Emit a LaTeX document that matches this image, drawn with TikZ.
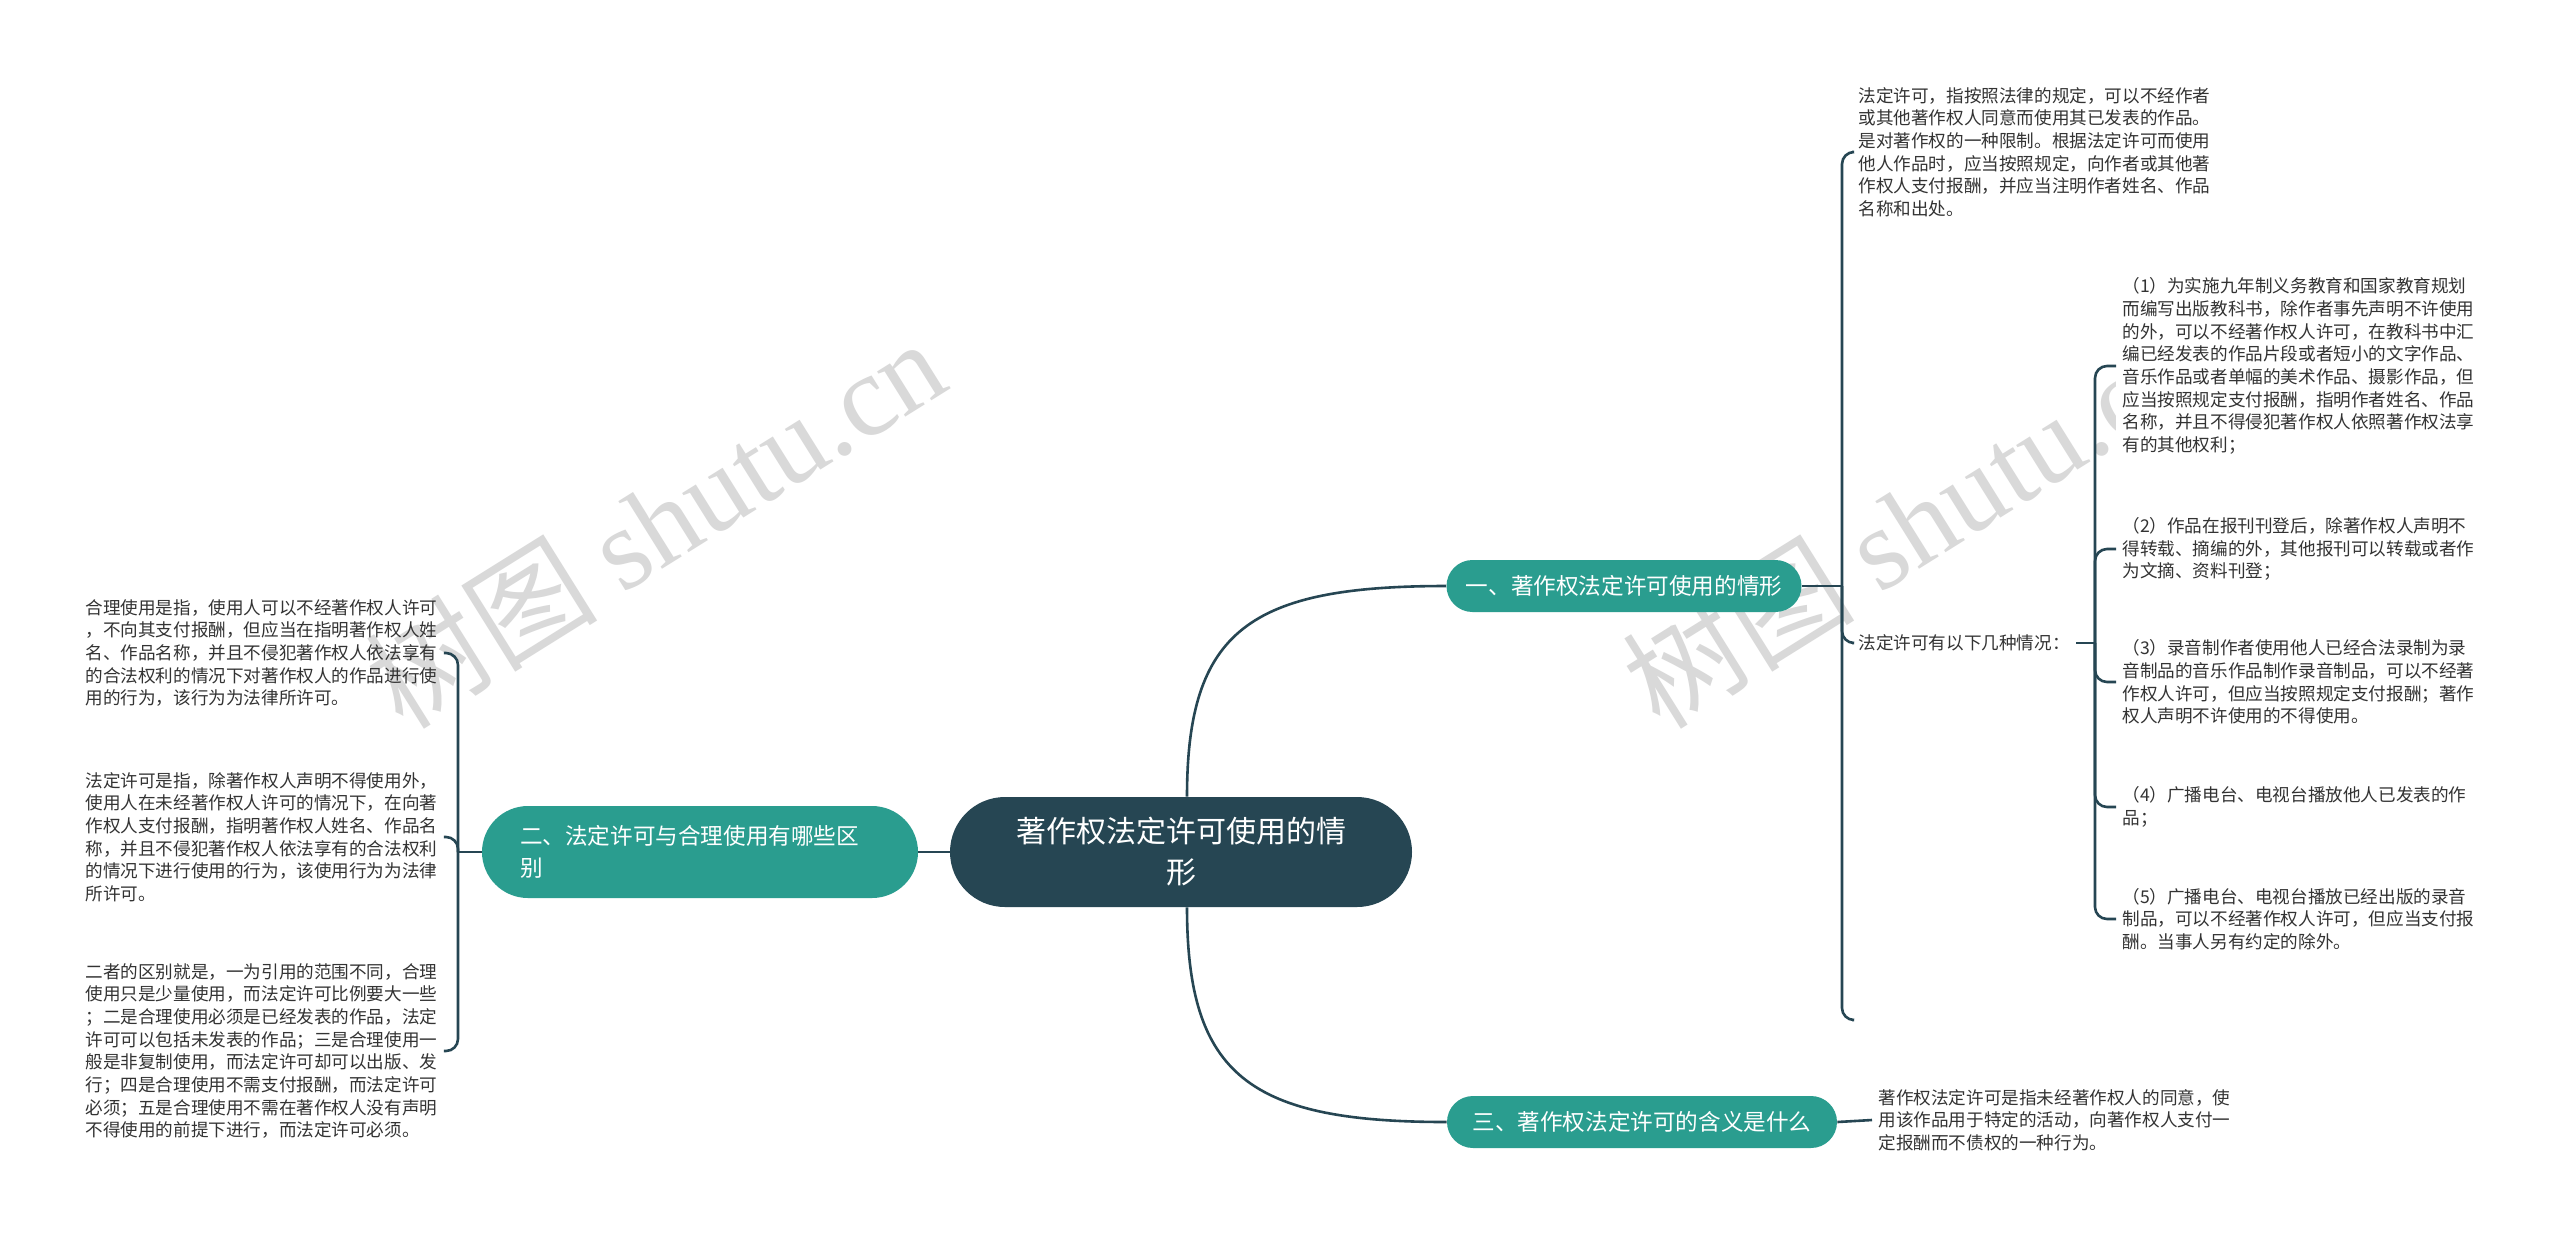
\documentclass[tikz,border=0pt]{standalone}
\usepackage{fontspec}
\setmainfont{Noto Sans CJK SC}
\newfontfamily\wmlatin{Liberation Serif}
\definecolor{dark}{HTML}{264653}
\definecolor{tealb}{HTML}{2A9D8F}
\definecolor{txt}{HTML}{333333}
\begin{document}
\begin{tikzpicture}[x=0.5pt,y=-0.5pt,
  conn/.style={draw=dark,line width=1.3pt,rounded corners=6pt},
  leaf/.style={font=\fontsize{8.8pt}{11.35pt}\selectfont, text=txt, align=left, inner sep=3pt, anchor=west},
  branch/.style={fill=tealb, text=white, font=\fontsize{11.3pt}{16.3pt}\selectfont, inner sep=0pt, align=center},
  wm/.style={text=black!15, font=\fontsize{58pt}{58pt}\selectfont, rotate=32, inner sep=0pt}]
\fill[white] (0,0) rectangle (2560,1239);
\useasboundingbox (0,0) rectangle (2560,1239);

% watermarks
\node[wm] (wm1) at (655,522) {树图 {\wmlatin shutu.cn}};
\node[wm] (wm2) at (1912,522) {树图 {\wmlatin shutu.cn}};

% root and branches
\node[fill=dark, text=white, minimum width=231pt, minimum height=55pt, rounded corners=27.5pt,
  font=\fontsize{15pt}{20.5pt}\selectfont, align=center, inner sep=0pt] (root) at (1181,852)
  {著作权法定许可使用的情\\形};
\node[branch, minimum width=177.5pt, minimum height=26pt, rounded corners=13pt] (b1) at (1624,586)
  {一、著作权法定许可使用的情形};
\node[branch, minimum width=218pt, minimum height=46pt, rounded corners=23pt, text width=180pt, align=left] (b2) at (700,852)
  {二、法定许可与合理使用有哪些区\\别};
\node[branch, minimum width=195pt, minimum height=26pt, rounded corners=13pt] (b3) at (1642,1122)
  {三、著作权法定许可的含义是什么};

% branch 1 leaves
\node[leaf] (tr) at (1852,152) {法定许可，指按照法律的规定，可以不经作者\\或其他著作权人同意而使用其已发表的作品。\\是对著作权的一种限制。根据法定许可而使用\\他人作品时，应当按照规定，向作者或其他著\\作权人支付报酬，并应当注明作者姓名、作品\\名称和出处。};
\node[leaf] (lab) at (1852,643) {法定许可有以下几种情况：};
\node[leaf, fill=white] (c1) at (2116,366) {（1）为实施九年制义务教育和国家教育规划\\而编写出版教科书，除作者事先声明不许使用\\的外，可以不经著作权人许可，在教科书中汇\\编已经发表的作品片段或者短小的文字作品、\\音乐作品或者单幅的美术作品、摄影作品，但\\应当按照规定支付报酬，指明作者姓名、作品\\名称，并且不得侵犯著作权人依照著作权法享\\有的其他权利；};
\node[leaf] (c2) at (2116,549) {（2）作品在报刊刊登后，除著作权人声明不\\得转载、摘编的外，其他报刊可以转载或者作\\为文摘、资料刊登；};
\node[leaf] (c3) at (2116,682) {（3）录音制作者使用他人已经合法录制为录\\音制品的音乐作品制作录音制品，可以不经著\\作权人许可，但应当按照规定支付报酬；著作\\权人声明不许使用的不得使用。};
\node[leaf] (c4) at (2116,807) {（4）广播电台、电视台播放他人已发表的作\\品；};
\node[leaf] (c5) at (2116,919) {（5）广播电台、电视台播放已经出版的录音\\制品，可以不经著作权人许可，但应当支付报\\酬。当事人另有约定的除外。};

% branch 2 leaves
\node[leaf] (la) at (79,653) {合理使用是指，使用人可以不经著作权人许可\\，不向其支付报酬，但应当在指明著作权人姓\\名、作品名称，并且不侵犯著作权人依法享有\\的合法权利的情况下对著作权人的作品进行使\\用的行为，该行为为法律所许可。};
\node[leaf] (lb) at (79,837) {法定许可是指，除著作权人声明不得使用外，\\使用人在未经著作权人许可的情况下，在向著\\作权人支付报酬，指明著作权人姓名、作品名\\称，并且不侵犯著作权人依法享有的合法权利\\的情况下进行使用的行为，该使用行为为法律\\所许可。};
\node[leaf] (lc) at (79,1051) {二者的区别就是，一为引用的范围不同，合理\\使用只是少量使用，而法定许可比例要大一些\\；二是合理使用必须是已经发表的作品，法定\\许可可以包括未发表的作品；三是合理使用一\\般是非复制使用，而法定许可却可以出版、发\\行；四是合理使用不需支付报酬，而法定许可\\必须；五是合理使用不需在著作权人没有声明\\不得使用的前提下进行，而法定许可必须。};

% branch 3 leaf
\node[leaf] (br) at (1872,1120) {著作权法定许可是指未经著作权人的同意，使\\用该作品用于特定的活动，向著作权人支付一\\定报酬而不债权的一种行为。};

% connectors
\draw[conn] ([xshift=3pt]root.north) .. controls (1187,630) and (1250,586) .. (b1.west);
\draw[conn] ([xshift=3pt]root.south) .. controls (1187,1076) and (1250,1122) .. (b3.west);
\draw[conn] (root.west) -- (b2.east);

\coordinate (k1) at (1842,586);
\coordinate (k1e) at (1852,1020);
\draw[conn] (b1.east) -- (k1);
\draw[conn] (k1) |- (tr.west);
\draw[conn] (k1) |- (lab.west);
\draw[conn] (k1) |- (k1e);

\coordinate (k2) at (2095,643);
\draw[conn] (lab.east) -- (k2);
\foreach \c in {c1,c2,c3,c4,c5} { \draw[conn] (k2) |- (\c.west); }

\coordinate (k3) at (458,852);
\draw[conn] (b2.west) -- (k3);
\foreach \c in {la,lb,lc} { \draw[conn] (k3) |- (\c.east); }

\draw[conn] (b3.east) -- (br.west);
\end{tikzpicture}
\end{document}
